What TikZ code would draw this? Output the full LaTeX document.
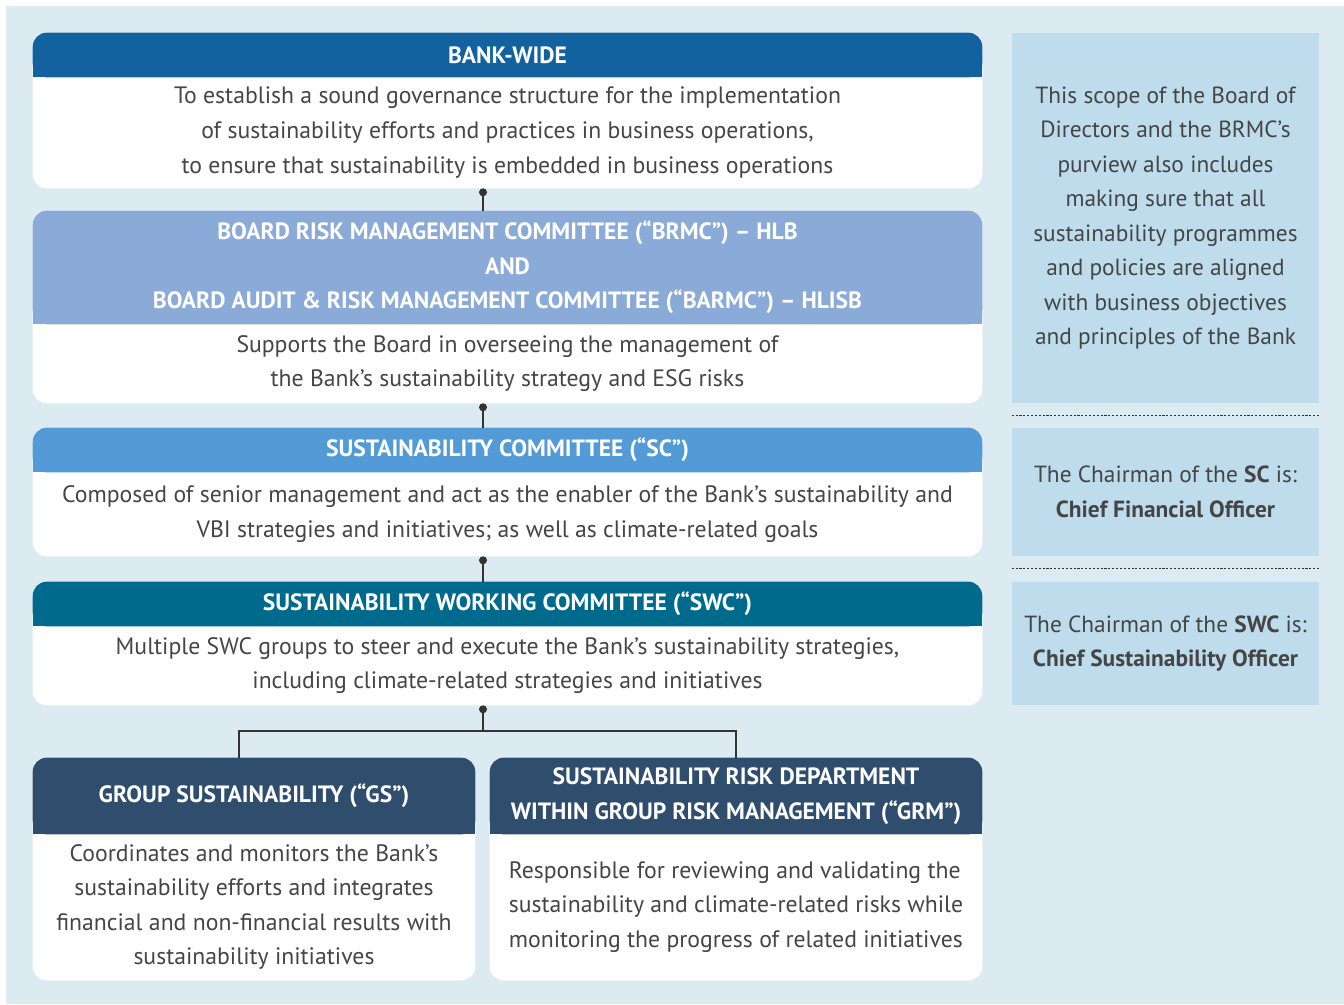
\documentclass[tikz,border=0pt]{standalone}
\usepackage{fontspec}
\setmainfont{PT Sans}
\newfontfamily\headfont{PT Sans}
\usepackage{tikz}
\usetikzlibrary{arrows.meta, positioning}
\pgfdeclarelayer{canvas}
\pgfdeclarelayer{cards}
\pgfsetlayers{canvas,cards,main}
\definecolor{canvasblue}{HTML}{DCEAF2}
\definecolor{panelblue}{HTML}{BEDCEC}
\definecolor{bankblue}{HTML}{1262A0}
\definecolor{boardblue}{HTML}{8AAAD8}
\definecolor{scblue}{HTML}{529BD7}
\definecolor{swcteal}{HTML}{006A8D}
\definecolor{unitnavy}{HTML}{2F4D6D}
\definecolor{textgrey}{HTML}{454545}
\definecolor{linegrey}{HTML}{333333}
\tikzset{head/.style={rectangle,align=center,inner sep=0pt,text=white,font=\headfont\bfseries\fontsize{13.4}{19.6}\selectfont,minimum width=18.98cm},
         body/.style={rectangle,align=center,inner sep=0pt,text=textgrey,font=\fontsize{13.5}{19.7}\selectfont,minimum width=18.98cm},
         side/.style={rectangle,fill=panelblue,align=center,inner sep=0pt,text=textgrey,font=\fontsize{13.3}{19.6}\selectfont,minimum width=6.14cm},
         link/.style={{Circle[length=4.5pt]}-,line width=0.8pt,draw=linegrey},
         fork/.style={line width=0.8pt,draw=linegrey},
         sep/.style={dash pattern=on 1.2pt off 1pt,line width=0.7pt,draw=linegrey}}

\begin{document}
\begin{tikzpicture}[x=0.02cm,y=-0.02cm]
    \useasboundingbox (0,0) rectangle (1344,1004);
    \begin{pgfonlayer}{canvas}
      \fill[white] (0,0) rectangle (1344,1004);
      \fill[canvasblue] (6,6) rectangle (1344,1004);
    \end{pgfonlayer}
    % Committees
    \node (h1) at (507.5,55) [head,minimum height=0.88cm]{BANK-WIDE};
    \node (b1) at (507.5,132.5) [body,minimum height=2.22cm]{To establish a sound governance structure for the implementation\\of sustainability efforts and practices in business operations,\\to ensure that sustainability is embedded in business operations};
    \node (h2) at (507.5,267.5) [head,minimum height=2.26cm]{BOARD RISK MANAGEMENT COMMITTEE (“BRMC”) – HLB\\AND\\BOARD AUDIT \& RISK MANAGEMENT COMMITTEE (“BARMC”) – HLISB};
    \node (b2) at (507.5,363.5) [body,minimum height=1.58cm]{Supports the Board in overseeing the management of\\the Bank’s sustainability strategy and ESG risks};
    \node (h3) at (507.5,450) [head,minimum height=0.88cm]{SUSTAINABILITY COMMITTEE (“SC”)};
    \node (b3) at (507.5,514) [body,minimum height=1.68cm]{Composed of senior management and act as the enabler of the Bank’s sustainability and\\VBI strategies and initiatives; as well as climate-related goals};
    \node (h4) at (507.5,604) [head,minimum height=0.88cm]{SUSTAINABILITY WORKING COMMITTEE (“SWC”)};
    \node (b4) at (507.5,665.5) [body,minimum height=1.58cm]{Multiple SWC groups to steer and execute the Bank’s sustainability strategies,\\including climate-related strategies and initiatives};
    % Departments
    \node (gsh) at (254,796) [head,minimum width=8.84cm,minimum height=1.52cm]{GROUP SUSTAINABILITY (“GS”)};
    \node (gsb) at (254,907) [body,minimum width=8.84cm,minimum height=2.92cm]{Coordinates and monitors the Bank’s\\sustainability efforts and integrates\\financial and non-financial results with\\sustainability initiatives};
    \node (grmh) at (736,796) [head,minimum width=9.84cm,minimum height=1.52cm]{SUSTAINABILITY RISK DEPARTMENT\\WITHIN GROUP RISK MANAGEMENT (“GRM”)};
    \node (grmb) at (736,907) [body,align=left,minimum width=9.84cm,minimum height=2.92cm]{Responsible for reviewing and validating the\\sustainability and climate-related risks while\\monitoring the progress of related initiatives};
    % Card backgrounds
    \begin{pgfonlayer}{cards}
      \fill[white,rounded corners=8pt] (h1.north west) rectangle (b1.south east);
      \fill[bankblue,rounded corners=8pt] (h1.north west) rectangle (h1.south east);
      \fill[bankblue] ([yshift=9pt]h1.south west) rectangle (h1.south east);
      \fill[white,rounded corners=8pt] (h2.north west) rectangle (b2.south east);
      \fill[boardblue,rounded corners=8pt] (h2.north west) rectangle (h2.south east);
      \fill[boardblue] ([yshift=9pt]h2.south west) rectangle (h2.south east);
      \fill[white,rounded corners=8pt] (h3.north west) rectangle (b3.south east);
      \fill[scblue,rounded corners=8pt] (h3.north west) rectangle (h3.south east);
      \fill[scblue] ([yshift=9pt]h3.south west) rectangle (h3.south east);
      \fill[white,rounded corners=8pt] (h4.north west) rectangle (b4.south east);
      \fill[swcteal,rounded corners=8pt] (h4.north west) rectangle (h4.south east);
      \fill[swcteal] ([yshift=9pt]h4.south west) rectangle (h4.south east);
      \fill[white,rounded corners=8pt] (gsh.north west) rectangle (gsb.south east);
      \fill[unitnavy,rounded corners=8pt] (gsh.north west) rectangle (gsh.south east);
      \fill[unitnavy] ([yshift=9pt]gsh.south west) rectangle (gsh.south east);
      \fill[white,rounded corners=8pt] (grmh.north west) rectangle (grmb.south east);
      \fill[unitnavy,rounded corners=8pt] (grmh.north west) rectangle (grmh.south east);
      \fill[unitnavy] ([yshift=9pt]grmh.south west) rectangle (grmh.south east);
    \end{pgfonlayer}
    % Chairman notes
    \node (p1) at (1165.5,218) [side,minimum height=7.4cm]{This scope of the Board of\\Directors and the BRMC’s\\purview also includes\\making sure that all\\sustainability programmes\\and policies are aligned\\with business objectives\\and principles of the Bank};
    \node (p2) at (1165.5,492) [side,minimum height=2.56cm]{The Chairman of the \textbf{SC} is:\\\textbf{Chief Financial Officer}};
    \node (p3) at (1165.5,643.5) [side,minimum height=2.46cm]{The Chairman of the \textbf{SWC} is:\\\textbf{Chief Sustainability Officer}};
    \draw[sep] ([yshift=-0.24cm]p1.south west) -- ([yshift=-0.24cm]p1.south east);
    \draw[sep] ([yshift=-0.24cm]p2.south west) -- ([yshift=-0.24cm]p2.south east);
    % Links
    \coordinate (spine) at (483,0);
    \coordinate (split) at (483,731);
    \coordinate (legL) at (239,0);
    \draw[link] (b1.south -| spine) -- (h2.north -| spine);
    \draw[link] (b2.south -| spine) -- (h3.north -| spine);
    \draw[link] (b3.south -| spine) -- (h4.north -| spine);
    \draw[link] (b4.south -| spine) -- (split);
    \draw[fork] (split) -| (gsh.north -| legL);
    \draw[fork] (split) -| (grmh.north);
  \end{tikzpicture}
\end{document}
